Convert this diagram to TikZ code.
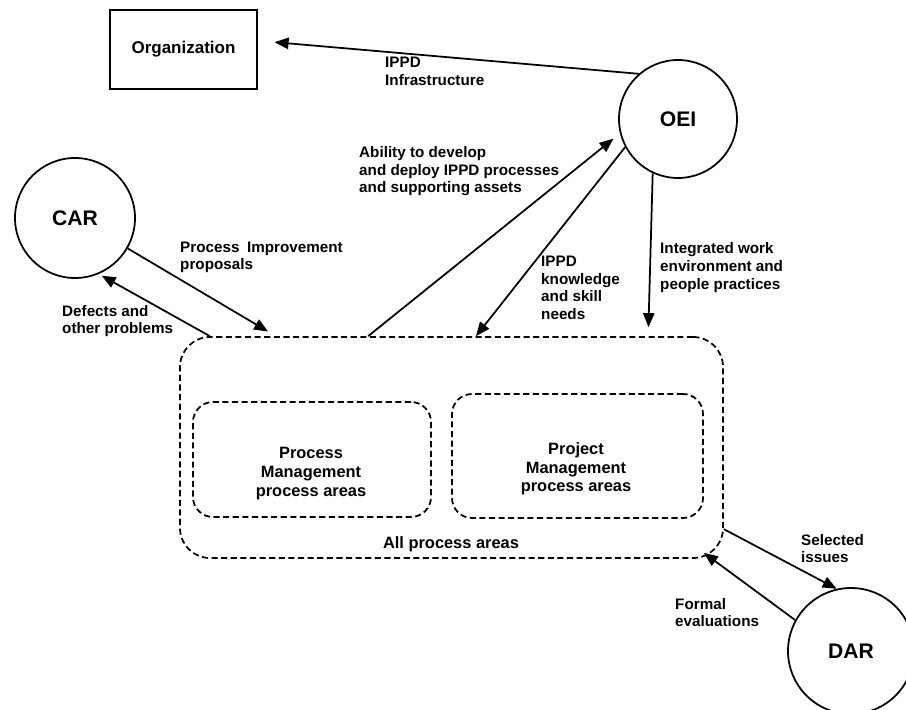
\documentclass[tikz,border=0pt]{standalone}
\usepackage{fontspec}
\setmainfont{Liberation Sans}
\usepackage{tikz}
\usetikzlibrary{positioning}
\usetikzlibrary{arrows.meta}
\usepackage{xcolor}
\tikzset{
  conn/.style={line width=1.5pt, -{Triangle[length=4.2mm,width=3.4mm]}},
  area/.style={draw, dash pattern=on 5.2pt off 3pt, line width=1.5pt, rounded corners=0.6cm},
  areatext/.style={align=center, inner sep=0pt, font=\fontsize{14}{16}\selectfont\bfseries},
  pa/.style={draw, circle, line width=1.5pt, font=\fontsize{18}{20}\selectfont\bfseries},
  lbl/.style={anchor=west, align=left, inner sep=0pt, font=\fontsize{13}{15}\selectfont\bfseries}
}

\begin{document}
\begin{tikzpicture}[x=0.03cm, y=-0.03cm]
    \useasboundingbox (0,0) rectangle (906,710);
    \node[draw, line width=1.5pt, minimum width=4.41cm, minimum height=2.37cm, font=\fontsize{14.5}{17}\selectfont\bfseries] (org) at (183.5,49.5) {Organization};
    \node[pa, minimum size=3.54cm] (oei) at (678,119) {OEI};
    \node[pa, minimum size=3.6cm] (car) at (75,218) {CAR};
    \node[pa, minimum size=3.78cm] (dar) at (851,651) {DAR};
    \node[area, rounded corners=0.9cm, minimum width=16.29cm, minimum height=6.63cm] (all) at (451.5,447.5) {};
    \node[area, minimum width=7.14cm, minimum height=3.45cm] (pm) at (312,459.5) {};
    \node[area, minimum width=7.53cm, minimum height=3.72cm] (prj) at (577.5,456) {};
    \node[areatext] (pmtext) at (311,473.5) {Process\\Management\\process areas};
    \node[areatext] (prjtext) at (576,469) {Project\\Management\\process areas};
    \node[areatext] (alltext) at (451,544) {All process areas};
    \node[lbl] (infra) at (385,71.5) {IPPD\\Infrastructure};
    \node[lbl] (ability) at (359,171.5) {Ability to develop\\and deploy IPPD processes\\and supporting assets};
    \node[lbl] (proposals) at (180,257.5) {Process\enspace Improvement\\proposals};
    \node[lbl] (defects) at (62,321) {Defects and\\other problems};
    \node[lbl] (needs) at (541,288) {IPPD\\knowledge\\and skill\\needs};
    \node[lbl] (practices) at (660,267.5) {Integrated work\\environment and\\people practices};
    \node[lbl] (issues) at (801,548.5) {Selected\\issues};
    \node[lbl] (evals) at (675,612.5) {Formal\\evaluations};
    \draw[conn] (oei.131) -- ([xshift=0.5cm,yshift=0.22cm]org.east);
    \draw[conn, shorten >=0.25cm] ([xshift=-2.5cm]all.north) -- (oei.194);
    \draw[conn] (oei.208) -- ([xshift=0.735cm]all.north);
    \draw[conn, shorten >=0.27cm] (oei.245) -- ([xshift=5.9cm]all.north);
    \draw[conn, shorten >=0.27cm] (car.330) -- ([xshift=-5.27cm]all.north);
    \draw[conn, shorten >=0.1cm] ([xshift=-7.25cm]all.north) -- (car.293);
    \draw[conn] ([yshift=-2.45cm]all.east) -- (dar.103);
    \draw[conn] (dar.151) -- ([xshift=-0.6cm,yshift=0.18cm]all.south east);
\end{tikzpicture}
\end{document}
